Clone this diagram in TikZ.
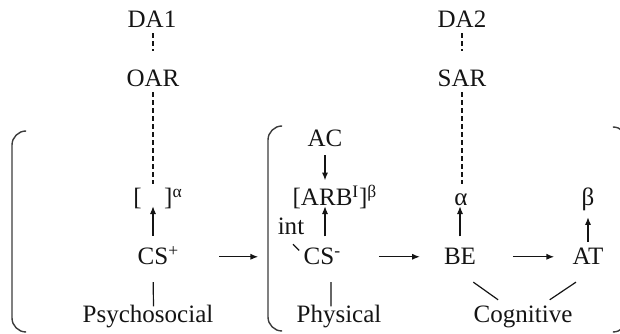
\documentclass[tikz,border=0pt]{standalone}
\usepackage{fontspec}
\setmainfont{Liberation Serif}
\usetikzlibrary{arrows.meta,positioning,calc}
\definecolor{ink}{HTML}{141414}
\definecolor{bracketgray}{HTML}{3C3C3C}
\tikzset{
  termnode/.style={
    inner sep=0pt, anchor=base,
    text height=11.7pt, text depth=0pt,
    font=\fontsize{17.8pt}{20pt}\selectfont, text=ink
  },
  flowarrow/.style={
    -{Latex[length=5.5pt,width=4.4pt]}, line width=0.85pt, color=ink
  },
  plainlink/.style={line width=0.85pt, color=#1},
  plainlink/.default=ink,
  dashlink/.style={line width=0.85pt, color=ink, dash pattern=on 3.5pt off 2.2pt},
  groupbracket/.style={line width=1pt, color=bracketgray, rounded corners=10pt},
}

\begin{document}
\begin{tikzpicture}[x=0.025cm, y=-0.025cm]
  \useasboundingbox (0,0) rectangle (620,334);

  % Top labels
  \node[termnode] at (152,28) (da1) {DA1};
  \node[termnode] at (153,87) (oar) {OAR};
  \node[termnode] at (462,28) (da2) {DA2};
  \node[termnode] at (462,87) (sar) {SAR};

  % Psychosocial
  \node[termnode] at (153,206) (sqb) {[\hspace{0.9em}]\rlap{\textsuperscript{α}}};
  \node[termnode] at (153,265) (csp) {CS\rlap{\textsuperscript{+}}};
  \node[termnode] at (148,323) (psych) {Psychosocial};

  % Physical
  \node[termnode] at (325,147) (ac) {AC};
  \node[termnode] at (330,206) (arb) {[ARB\textsuperscript{I}]\rlap{\textsuperscript{β}}};
  \node[termnode] at (291,235) (intn) {int};
  \node[termnode] at (319,265) (csm) {CS\rlap{\textsuperscript{-}}};
  \node[termnode] at (339,323) (phys) {Physical};

  % Cognitive
  \node[termnode] at (461,206) (alpha) {α};
  \node[termnode] at (460,265) (be) {BE};
  \node[termnode] at (588,206) (beta) {β};
  \node[termnode] at (588,265) (atn) {AT};
  \node[termnode] at (523,323) (cog) {Cognitive};

  % Brackets
  \coordinate (brk1) at (12,232);
  \coordinate (brk2) at (268,232);
  \coordinate (brk3) at (627,232);
  \draw[groupbracket] (25,131) -| (brk1) |- (25,332);
  \draw[groupbracket] (282,126) -| (brk2) |- (282,331);
  \draw[groupbracket] (613,127) -| (brk3) |- (613,332);

  % Dashed links
  \draw[dashlink, shorten <=3.5pt, shorten >=13.5pt] (da1.south -| oar.north) -- (oar.north);
  \draw[dashlink, shorten <=3.5pt, shorten >=3.5pt] (oar.south) -- (oar.south |- sqb.north);
  \draw[dashlink, shorten <=3.5pt, shorten >=13.5pt] (da2.south) -- (sar.north);
  \draw[dashlink, shorten <=3.5pt, shorten >=3.5pt] (sar.south) -- (sar.south |- alpha.north);

  % Vertical arrows
  \draw[flowarrow, shorten <=9pt] (csp.north) -- (csp.north |- sqb.south);
  \draw[flowarrow, shorten <=5.7pt, shorten >=6.4pt] (ac.south) -- (ac.south |- arb.north);
  \draw[flowarrow, shorten <=8.5pt] (csm.north -| ac.south) -- (arb.south -| ac.south);
  \draw[flowarrow, shorten <=8.5pt] (be.north) -- (be.north |- alpha.south);
  \draw[flowarrow, shorten <=4.3pt, shorten >=7.8pt] (atn.north) -- (beta.south);

  % Horizontal arrows
  \draw[flowarrow, shorten <=36pt, shorten >=7pt] (csp.east) -- (csp.east -| brk2);
  \draw[flowarrow, shorten <=31.5pt, shorten >=17pt] (csm.east) -- (be.west);
  \draw[flowarrow, shorten <=26pt, shorten >=13pt] (be.east) -- (atn.west);

  % Plain links
  \draw[plainlink, shorten <=12pt] (csp.south) -- ([xshift=3.9pt]psych.north);
  \draw[plainlink, shorten <=12pt] ([xshift=8.5pt]csm.south) -- ([xshift=-5.7pt]phys.north);
  \draw[plainlink] ([xshift=-2.1pt, yshift=-12pt]be.south east) -- ([xshift=-17.7pt, yshift=4.6pt]cog.north);
  \draw[plainlink] ([xshift=2.5pt, yshift=-12pt]atn.south west) -- ([xshift=19pt, yshift=4.6pt]cog.north);
  \draw[plainlink] ([xshift=1.4pt, yshift=-6.4pt]intn.south) -- ([xshift=-3pt, yshift=-1.5pt]csm.north west);
\end{tikzpicture}
\end{document}
